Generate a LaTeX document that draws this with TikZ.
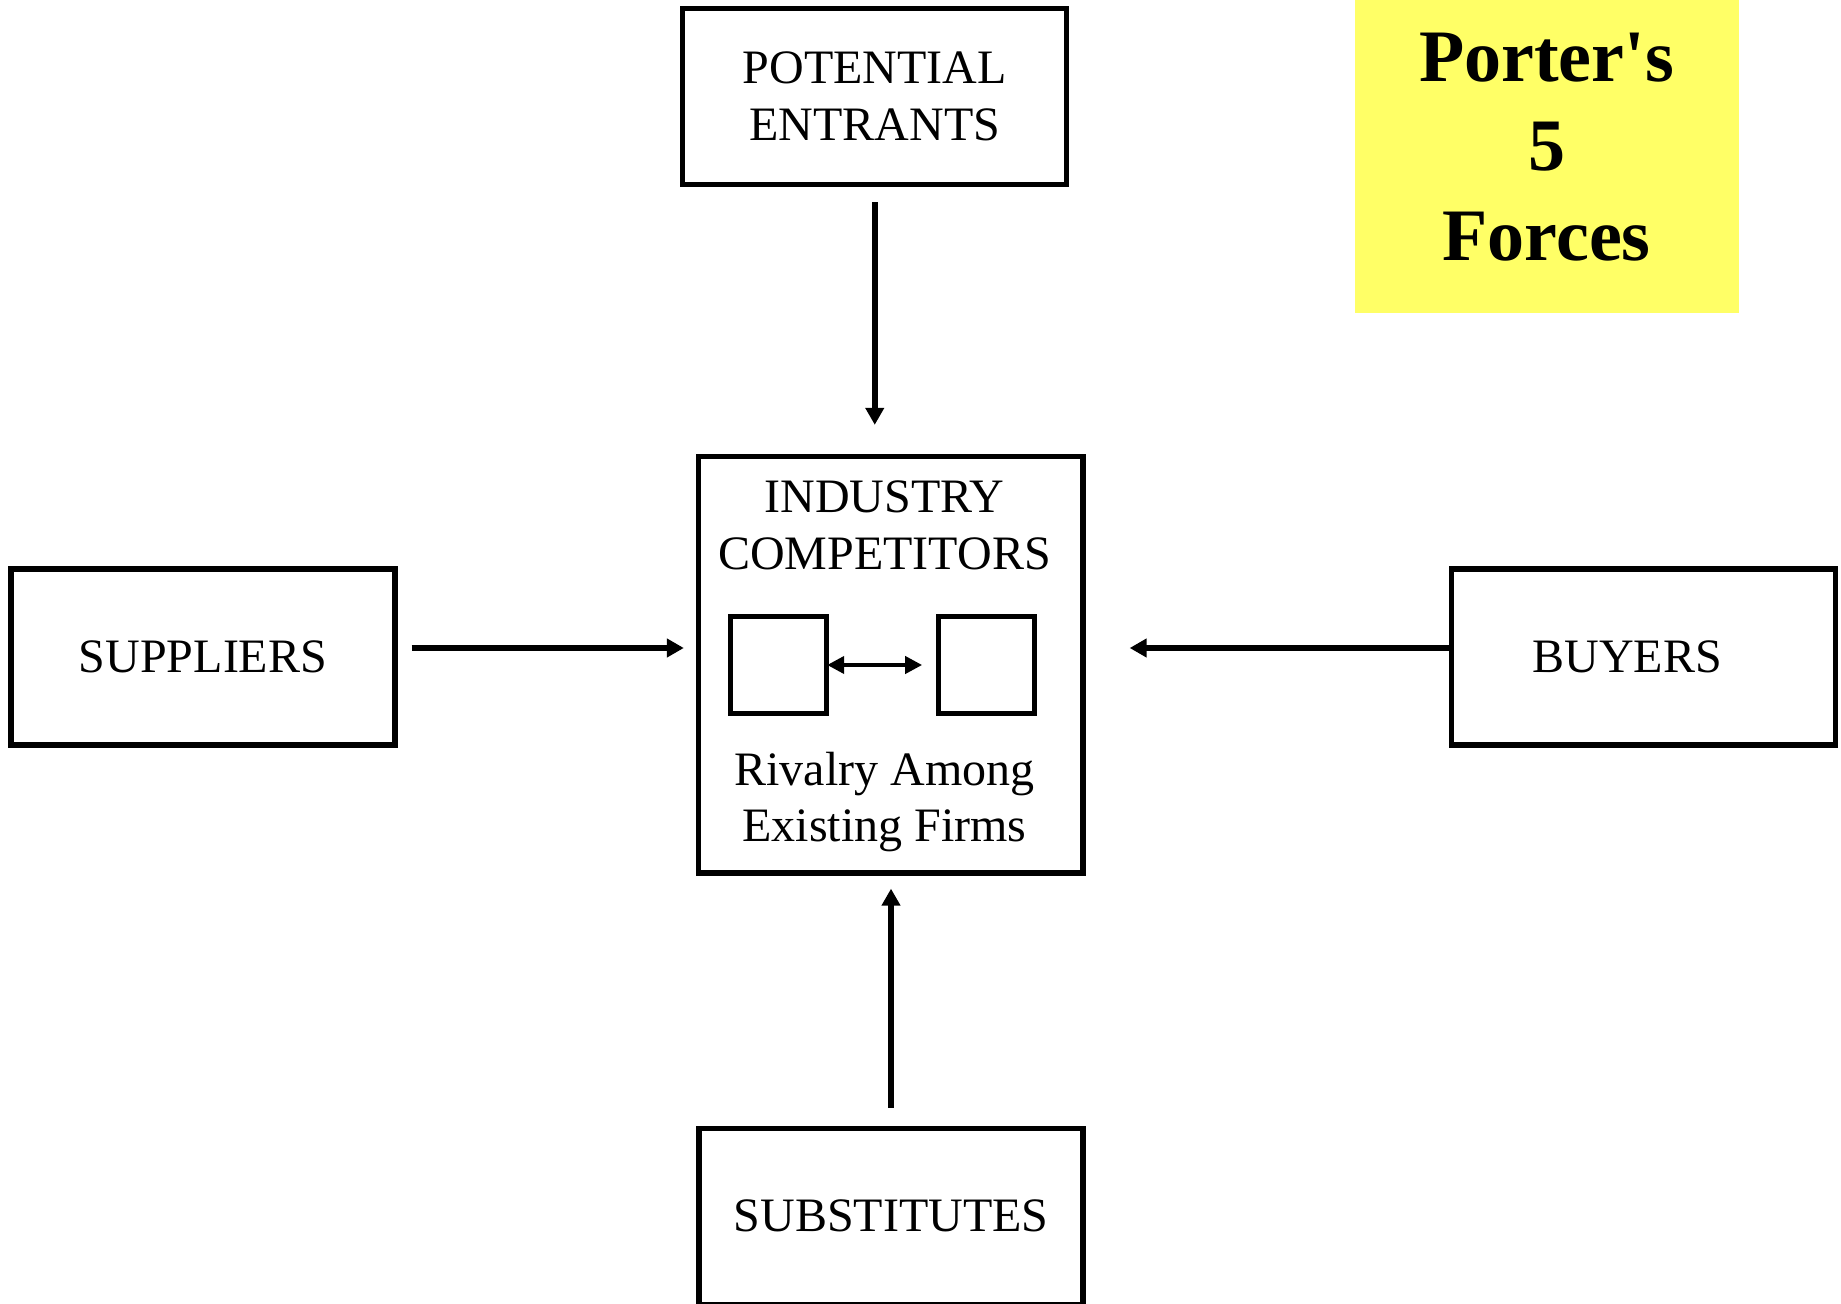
\documentclass[tikz,border=0pt]{standalone}
\usepackage{fontspec}
\setmainfont{Liberation Serif}
\newfontfamily\titlefont{Liberation Serif}
\usetikzlibrary{arrows.meta}
\definecolor{notepad}{HTML}{FFFF66}
\begin{document}
\begin{tikzpicture}[x=0.5pt,y=-0.5pt,
  boxfont/.style={font=\fontsize{24}{28.3}\selectfont},
  forcebox/.style={draw, line width=2.67pt, minimum width=192pt, minimum height=88pt,
    inner sep=0pt, align=center, boxfont},
  firm/.style={draw, line width=2.67pt, minimum width=48pt, minimum height=48.5pt, inner sep=0pt},
  txt/.style={inner sep=0pt, align=center, boxfont},
  force/.style={line width=3pt, -{Triangle[width=9pt,length=8.5pt]}},
  rivalry/.style={line width=2pt,
    {Triangle[width=8.5pt,length=8.5pt]}-{Triangle[width=8.5pt,length=8.5pt]}},
]
\useasboundingbox (0,0) rectangle (1841,1304);

% the five forces
\node[forcebox] (pe)  at (874.75,96.5) {POTENTIAL\\ENTRANTS};
\node[forcebox, minimum width=192.25pt, minimum height=208.25pt] (ind) at (890.75,664.75) {};
\node[forcebox] (sup) at (203,657) {SUPPLIERS};
\node[forcebox] (buy) at (1643.25,657) {BUYERS\hspace{16pt}};
\node[forcebox] (sub) at (891,1216.3) {SUBSTITUTES};

% inside the industry box
\node[txt] (indtitle) at (884.5,525.5) {INDUSTRY\\COMPETITORS};
\node[firm] (f1) at (778.5,665) {};
\node[firm] (f2) at (986.8,665) {};
\node[txt] (rival) at (884.5,802.2) {Rivalry Among\\Existing Firms};
\draw[rivalry, shorten <=-1pt, shorten >=7pt] (f1.east) -- (f2.west);

% title note
\node[fill=notepad, minimum width=192.15pt, minimum height=156.65pt, inner sep=0pt] (notebg) at (1547.15,156.65) {};
\node[inner sep=0pt, align=center, font=\titlefont\bfseries\fontsize{37}{44.75}\selectfont] (title) at (1546.5,147) {Porter's\\5\\Forces};

% connectors
\draw[force, shorten <=7.5pt, shorten >=14.5pt] (pe.south) -- (pe.south |- ind.north);
\coordinate (supout) at ([yshift=4.5pt]sup.east);
\draw[force, shorten <=7pt, shorten >=6pt] (supout) -- (supout -| ind.west);
\coordinate (buyout) at ([yshift=4.5pt]buy.west);
\draw[force, shorten >=22pt] (buyout) -- (buyout -| ind.east);
\draw[force, shorten <=9pt, shorten >=6.5pt] (sub.north) -- (sub.north |- ind.south);
\end{tikzpicture}
\end{document}
